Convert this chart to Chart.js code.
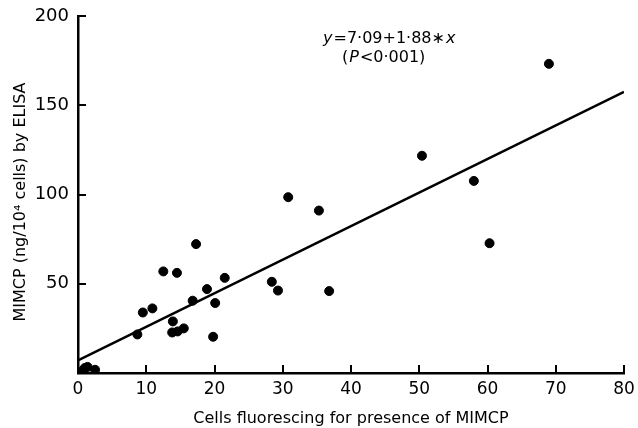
<!DOCTYPE html>
<html>
<head>
<meta charset="utf-8">
<script src="https://cdn.jsdelivr.net/npm/chart.js@4/dist/chart.umd.min.js"></script>
<style>
  html, body { margin: 0; padding: 0; background: #fff; }
  #wrap { width: 638px; height: 428px; }
</style>
</head>
<body>
<div id="wrap"><canvas id="scatterChart"></canvas></div>
<script>
// Cells fluorescing (x) vs MIMCP by ELISA (y)
const cellsX = [0.7, 1.0, 1.4, 2.5, 8.7, 9.5, 10.9, 12.5, 13.8, 13.9, 14.5, 14.6, 15.5, 16.8, 17.3,
  18.9, 19.8, 20.1, 21.5, 28.4, 29.3, 30.8, 35.3, 36.8, 50.4, 58.0, 60.3, 69.0];
const mimcpY = [1.5, 2.8, 3.4, 1.8, 21.6, 33.9, 36.2, 56.9, 22.7, 28.9, 56.1, 23.3, 25.0, 40.5, 72.2,
  47.0, 20.3, 39.2, 53.3, 51.1, 46.2, 98.5, 91.0, 45.9, 121.7, 107.6, 72.7, 173.2];

// fitted line from the figure: y = 7.09 + 1.88*x
const fitIntercept = 7.09;
const fitSlope = 1.88;
const fitRange = [0, 80];

const xTicks = [0, 10, 20, 30, 40, 50, 60, 70, 80];
const yTicks = [0, 50, 100, 150, 200];

const yTitle = 'MIMCP (ng/10⁴ cells) by ELISA';
const xTitle = 'Cells fluorescing for presence of MIMCP';

const FONT = '"DejaVu Sans", "Liberation Sans", sans-serif';

// inward tick marks, rotated y title and the equation text
const figurePlugin = {
  id: 'figurePlugin',
  afterDraw(chart) {
    const ctx = chart.ctx;
    const xs = chart.scales.x, ys = chart.scales.y;
    const area = chart.chartArea;
    ctx.save();
    ctx.strokeStyle = '#000';
    ctx.lineWidth = 2;
    ctx.beginPath();
    xTicks.forEach(v => {
      if (v === 0) return;
      const px = Math.round(xs.getPixelForValue(v));
      ctx.moveTo(px, area.bottom);
      ctx.lineTo(px, area.bottom - 8);
    });
    yTicks.forEach(v => {
      if (v === 0) return;
      const py = Math.round(ys.getPixelForValue(v));
      ctx.moveTo(area.left, py);
      ctx.lineTo(area.left + 8, py);
    });
    ctx.stroke();

    ctx.fillStyle = '#000';

    // y axis title
    ctx.save();
    ctx.translate(21, 202);
    ctx.rotate(-Math.PI / 2);
    ctx.font = '16px ' + FONT;
    ctx.textAlign = 'center';
    ctx.textBaseline = 'middle';
    ctx.fillText(yTitle, 0, 0);
    ctx.restore();

    // equation
    ctx.textBaseline = 'middle';
    ctx.textAlign = 'left';
    const parts = [
      ['y', 'italic 16px ' + FONT],
      ['=7·09+1·88∗', '16px ' + FONT],
      ['x', 'italic 16px ' + FONT]
    ];
    let x = 323;
    parts.forEach(p => {
      ctx.font = p[1];
      ctx.fillText(p[0], x, 39);
      x += ctx.measureText(p[0]).width + 1;
    });
    const parts2 = [
      ['(', '16px ' + FONT],
      ['P', 'italic 16px ' + FONT],
      ['<0·001)', '16px ' + FONT]
    ];
    x = 342;
    parts2.forEach(p => {
      ctx.font = p[1];
      ctx.fillText(p[0], x, 58);
      x += ctx.measureText(p[0]).width + 1;
    });
    ctx.restore();
  }
};

function createScatterChart() {
  var ctx = document.getElementById('scatterChart').getContext('2d');
  var points = cellsX.map((v, i) => ({ x: v, y: mimcpY[i] }));
  var fitLine = fitRange.map(v => ({ x: v, y: fitIntercept + fitSlope * v }));
  new Chart(ctx, {
    type: 'scatter',
    data: {
      datasets: [
        {
          label: 'Samples',
          data: points,
          backgroundColor: '#000',
          borderColor: '#000',
          pointRadius: 4.5,
          pointHoverRadius: 4.5
        },
        {
          type: 'line',
          label: 'Fit',
          data: fitLine,
          borderColor: '#000',
          borderWidth: 2.5,
          pointRadius: 0,
          fill: false
        }
      ]
    },
    options: {
      responsive: true,
      maintainAspectRatio: false,
      animation: false,
      layout: { padding: { top: 16, right: 14, left: 0, bottom: 0 } },
      plugins: {
        legend: { display: false },
        tooltip: { enabled: false }
      },
      scales: {
        x: {
          type: 'linear',
          min: 0,
          max: 80,
          afterBuildTicks: s => { s.ticks = xTicks.map(v => ({ value: v })); },
          afterFit: s => { s.height = 55; s.paddingLeft = 0; s.paddingRight = 0; },
          grid: { display: false, drawTicks: false },
          border: { display: true, color: '#000', width: 2.5 },
          ticks: {
            color: '#000',
            font: { family: FONT, size: 17 },
            padding: 6,
            maxRotation: 0
          },
          title: {
            display: true,
            text: xTitle,
            color: '#000',
            font: { family: FONT, size: 16 },
            padding: { top: 2, bottom: 0 }
          }
        },
        y: {
          type: 'linear',
          min: 0,
          max: 200,
          afterBuildTicks: s => { s.ticks = yTicks.map(v => ({ value: v })); },
          afterFit: s => { s.width = 78; s.paddingTop = 0; s.paddingBottom = 0; },
          grid: { display: false, drawTicks: false },
          border: { display: true, color: '#000', width: 2.5 },
          ticks: {
            color: '#000',
            font: { family: FONT, size: 18 },
            padding: 9,
            callback: v => (v === 0 ? '' : v)
          },
          title: { display: false }
        }
      }
    },
    plugins: [figurePlugin]
  });
}

window.onload = function() {
  createScatterChart();
};
</script>
</body>
</html>
